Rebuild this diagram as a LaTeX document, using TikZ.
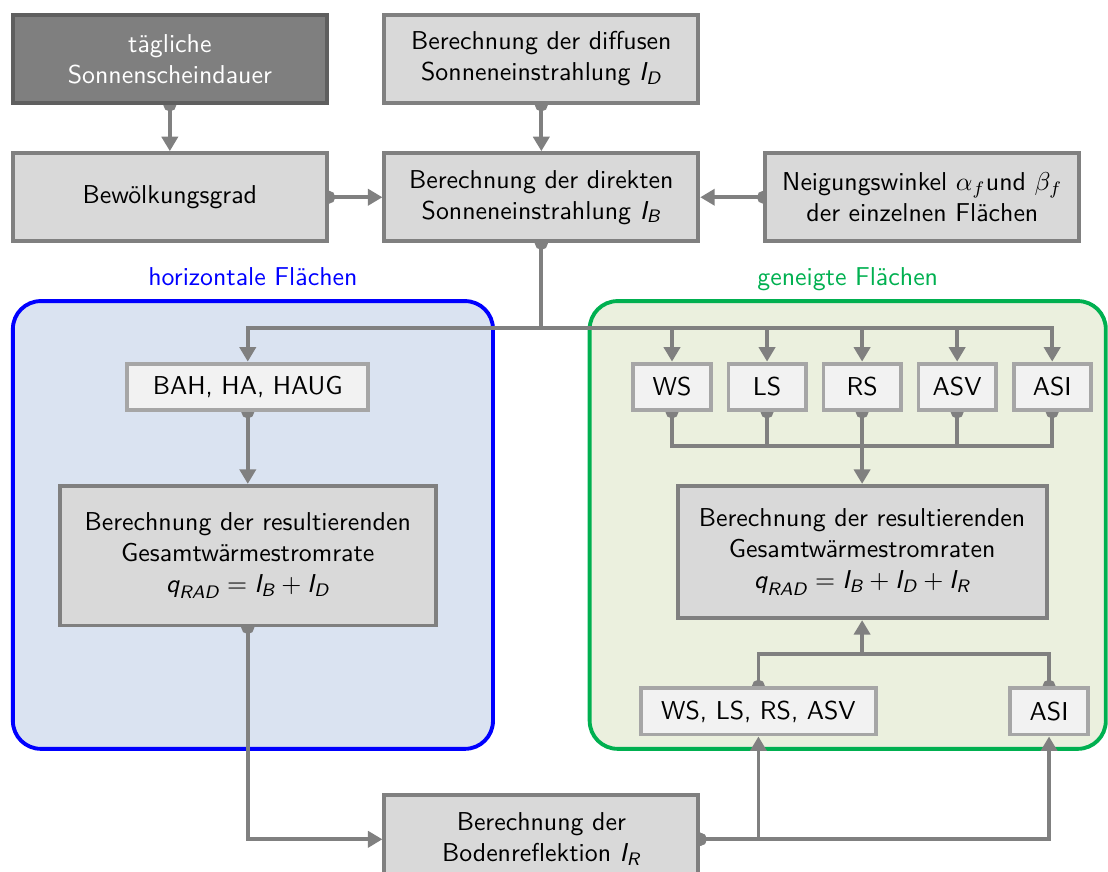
\documentclass[tikz,border=0pt]{standalone}
\usepackage{amsmath}
\usepackage{tikz}
\usetikzlibrary{arrows.meta,positioning}
\renewcommand{\familydefault}{\sfdefault}
\definecolor{boxgray}{RGB}{217,217,217}
\definecolor{linegray}{RGB}{128,128,128}
\definecolor{darkfill}{RGB}{127,127,127}
\definecolor{darkline}{RGB}{95,95,95}
\definecolor{palegray}{RGB}{242,242,242}
\definecolor{softgray}{RGB}{166,166,166}
\definecolor{horizblue}{RGB}{0,0,255}
\definecolor{horizpale}{RGB}{218,227,241}
\definecolor{tiltgreen}{RGB}{0,176,80}
\definecolor{tiltpale}{RGB}{235,240,222}
\newcommand{\irrad}[2]{\textit{#1}_{\textit{#2}}}
\pgfdeclarelayer{regions}
\pgfdeclarelayer{links}
\pgfsetlayers{regions,links,main}

\begin{document}
\begin{tikzpicture}[>={Triangle[length=5.6pt,width=6.2pt]},node distance=0.6cm,every node/.style={align=center},
  calcbox/.style={draw=linegray,fill=boxgray,line width=1.5pt,minimum width=4.27cm,minimum height=1.2cm},
  darkbox/.style={calcbox,draw=darkline,fill=darkfill,text=white},
  facebox/.style={draw=softgray,fill=palegray,line width=1.5pt,minimum height=0.63cm,inner sep=2pt},
  areabox/.style={line width=1.5pt,rounded corners=0.38cm,minimum height=6.09cm},
  conn/.style={draw=linegray,line width=1.5pt},
  fromdot/.style={conn,{Circle[length=5pt]}->,shorten <=-2.5pt},
  fromdotplain/.style={conn,{Circle[length=5pt]}-,shorten <=-2.5pt}]
  \useasboundingbox (0,0) rectangle (15.07,-11.86);
  % top rows
  \node[darkbox] (sun) at (2.31,-0.80) {tägliche\\Sonnenscheindauer};
  \node[calcbox,right=0.73cm of sun] (diffus) {Berechnung der diffusen\\Sonneneinstrahlung $\irrad{I}{D}$};
  \node[calcbox,below=0.63cm of sun] (cloud) {Bewölkungsgrad};
  \node[calcbox,below=0.63cm of diffus] (direct) {Berechnung der direkten\\Sonneneinstrahlung $\irrad{I}{B}$};
  \node[calcbox,right=0.86cm of direct] (angle) {Neigungswinkel $\alpha_f$und $\beta_f$\\der einzelnen Flächen};
  % areas
  \begin{pgfonlayer}{regions}
    \node[areabox,draw=horizblue,fill=horizpale,minimum width=6.53cm] (horiz) at (3.44,-7.14) {};
    \node[areabox,draw=tiltgreen,fill=tiltpale,minimum width=7.02cm] (tilted) at (11.53,-7.14) {};
  \end{pgfonlayer}
  \node[text=horizblue,above=0.18cm of horiz.north,anchor=base] (horizlabel) {horizontale Flächen};
  \node[text=tiltgreen,above=0.18cm of tilted.north,anchor=base] (tiltlabel) {geneigte Flächen};
  % horizontal surfaces
  \node[facebox,minimum width=3.28cm] (bah) at (3.37,-5.26) {BAH, HA, HAUG};
  \node[calcbox,minimum width=5.11cm,minimum height=1.9cm,below=0.98cm of bah] (resh) {Berechnung der resultierenden\\Gesamtwärmestromrate\\$\irrad{q}{RAD}=\irrad{I}{B}+\irrad{I}{D}$};
  % tilted surfaces
  \node[facebox,minimum width=1.05cm] (ws) at (9.14,-5.26) {WS};
  \node[facebox,minimum width=1.05cm,right=0.19cm of ws] (ls) {LS};
  \node[facebox,minimum width=1.05cm,right=0.19cm of ls] (rs) {RS};
  \node[facebox,minimum width=1.05cm,right=0.19cm of rs] (asv) {ASV};
  \node[facebox,minimum width=1.05cm,right=0.19cm of asv] (asi) {ASI};
  \node[calcbox,minimum width=5.02cm,minimum height=1.8cm,below=0.98cm of rs] (resg) {Berechnung der resultierenden\\Gesamtwärmestromraten\\$\irrad{q}{RAD}=\irrad{I}{B}+\irrad{I}{D}+\irrad{I}{R}$};
  \node[facebox,minimum width=3.2cm,below=0.9cm of resg,xshift=-1.41cm] (wlra) {WS, LS, RS, ASV};
  \node[facebox,minimum width=1.06cm,right=1.77cm of wlra] (asilow) {ASI};
  \node[calcbox,below=7.48cm of direct] (ground) {Berechnung der\\Bodenreflektion $\irrad{I}{R}$};
  % connectors
  \coordinate[below=1.15cm of direct] (split);
  \coordinate[below=0.46cm of rs] (merge);
  \coordinate[below=0.46cm of resg] (join);
  \begin{pgfonlayer}{links}
    \draw[fromdot] (sun) -- (cloud);
    \draw[fromdot] (diffus) -- (direct);
    \draw[fromdot] (cloud) -- (direct);
    \draw[fromdot] (angle) -- (direct);
    \draw[fromdotplain] (direct) -- (split);
    \draw[conn,->] (split) -| (bah);
    \draw[conn,->] (split) -| (ws);
    \draw[conn,->] (split) -| (ls);
    \draw[conn,->] (split) -| (rs);
    \draw[conn,->] (split) -| (asv);
    \draw[conn,->] (split) -| (asi);
    \draw[fromdot] (bah) -- (resh);
    \draw[fromdotplain] (ws) |- (merge);
    \draw[fromdotplain] (ls) |- (merge);
    \draw[fromdotplain] (rs) -- (merge);
    \draw[fromdotplain] (asv) |- (merge);
    \draw[fromdotplain] (asi) |- (merge);
    \draw[conn,->] (merge) -- (resg);
    \draw[fromdot] (resh) |- (ground);
    \draw[fromdot] (ground) -| (wlra);
    \draw[fromdot] (ground) -| (asilow);
    \draw[fromdotplain] (wlra) |- (join);
    \draw[fromdotplain] (asilow) |- (join);
    \draw[conn,->] (join) -- (resg);
  \end{pgfonlayer}
\end{tikzpicture}
\end{document}
